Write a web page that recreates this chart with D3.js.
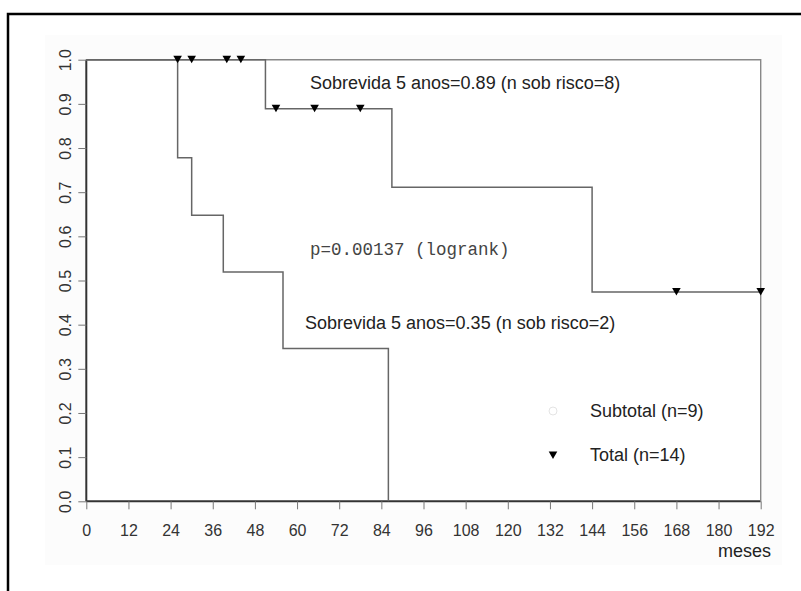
<!DOCTYPE html>
<html lang="en">
<head><meta charset="utf-8"/>
<script src="https://cdn.jsdelivr.net/npm/d3@7"></script>
<style>
body { margin:0; background:#fff; }
.curve { fill:none; stroke:#666; stroke-width:1.5px; }
.lbl { font-family:"Liberation Sans", Arial, sans-serif; font-size:18px; fill:#222; }
.tick line { stroke:#777; }
</style>
</head>
<body>
<svg id="chart" width="801" height="591"></svg>
<script>

// tick labels
var xTicks = [0,12,24,36,48,60,72,84,96,108,120,132,144,156,168,180,192];
var yTicks = [0.0,0.1,0.2,0.3,0.4,0.5,0.6,0.7,0.8,0.9,1.0];

// Total (n=14): step curve + censored marks
var totalTime = [0, 51, 87, 144, 192];
var totalSurv = [1.0, 0.889, 0.711, 0.474, 0.474];
var totalCensTime = [26, 30, 40, 44, 54, 65, 78, 168, 192];
var totalCensSurv = [1.0, 1.0, 1.0, 1.0, 0.889, 0.889, 0.889, 0.474, 0.474];

// Subtotal (n=9)
var subTime = [0, 26, 30, 39, 56, 86];
var subSurv = [1.0, 0.778, 0.648, 0.519, 0.346, 0.0];

var svg = d3.select("#chart");

var x = d3.scaleLinear().domain([0, 192]).range([86.3, 760.7]),
    y = d3.scaleLinear().domain([0, 1]).range([501.3, 59.7]);

// faint panel + outer frame
svg.append("rect").attr("x", 45).attr("y", 35).attr("width", 737).attr("height", 530)
	.attr("fill", "#fcfcfc");
svg.append("path").attr("d", "M8,591V14H801")
	.attr("fill", "none").attr("stroke", "#000").attr("stroke-width", 2.5);
svg.append("rect").attr("x", x(0)).attr("y", y(1))
	.attr("width", x(192) - x(0)).attr("height", y(0) - y(1)).attr("fill", "#fff");

var axis_x = svg.append("g")
	.attr("transform", "translate(0," + y(0) + ")")
	.call(d3.axisBottom(x).tickValues(xTicks).tickSize(8).tickPadding(15).tickFormat(d3.format("d")));
axis_x.select(".domain").attr("stroke", "#333").attr("stroke-width", 2).attr("d", "M" + x(0) + ",0H" + x(192));

var axis_y = svg.append("g")
	.attr("transform", "translate(" + x(0) + ",0)")
	.call(d3.axisLeft(y).tickValues(yTicks).tickSize(8).tickFormat(d3.format(".1f")));
axis_y.select(".domain").attr("stroke", "#333").attr("stroke-width", 2).attr("d", "M0," + y(0) + "V" + y(1));
axis_y.selectAll(".tick text")
	.attr("transform", "rotate(-90)")
	.attr("x", 0).attr("y", -15).attr("dy", null)
	.attr("text-anchor", "middle");

svg.selectAll(".tick text")
	.style("font-family", "'Liberation Sans', Arial, sans-serif")
	.style("font-size", "16px").style("fill", "#333");

// top/right box
svg.append("path")
	.attr("d", "M" + x(0) + "," + y(1) + "H" + x(192) + "V" + y(0))
	.attr("fill", "none").attr("stroke", "#888").attr("stroke-width", 1.4);

var line = d3.line()
	.curve(d3.curveStepAfter)
	.x(d => x(d[0]))
	.y(d => y(d[1]));

svg.append("path").attr("class", "curve")
	.attr("d", line(subTime.map((t, i) => [t, subSurv[i]])));
svg.append("path").attr("class", "curve")
	.attr("d", line(totalTime.map((t, i) => [t, totalSurv[i]])));

var tri = d3.symbol().type(d3.symbolTriangle).size(32);
svg.selectAll(".cens")
	.data(totalCensTime.map((t, i) => [t, totalCensSurv[i]]))
	.enter().append("path").attr("class", "cens")
	.attr("d", tri)
	.attr("transform", d => "translate(" + x(d[0]) + "," + (y(d[1]) - 1.5) + ") rotate(180)")
	.attr("fill", "#000");

// annotations
svg.append("text").attr("class", "lbl").attr("x", 310).attr("y", 89)
	.text("Sobrevida 5 anos=0.89 (n sob risco=8)");
svg.append("text").attr("x", 310).attr("y", 255)
	.style("font-family", "'Liberation Mono', 'Courier New', monospace")
	.style("font-size", "17.5px").style("fill", "#444")
	.text("p=0.00137 (logrank)");
svg.append("text").attr("class", "lbl").attr("x", 305).attr("y", 329)
	.text("Sobrevida 5 anos=0.35 (n sob risco=2)");

// legend
svg.append("circle").attr("cx", 553).attr("cy", 411).attr("r", 4)
	.attr("fill", "none").attr("stroke", "#e4e4e4");
svg.append("text").attr("class", "lbl").attr("x", 590).attr("y", 417).text("Subtotal (n=9)");
svg.append("path").attr("d", tri)
	.attr("transform", "translate(553,454) rotate(180)").attr("fill", "#000");
svg.append("text").attr("class", "lbl").attr("x", 590).attr("y", 461).text("Total (n=14)");

svg.append("text").attr("class", "lbl").attr("x", 771).attr("y", 557)
	.attr("text-anchor", "end").text("meses");

</script>
</body>
</html>
